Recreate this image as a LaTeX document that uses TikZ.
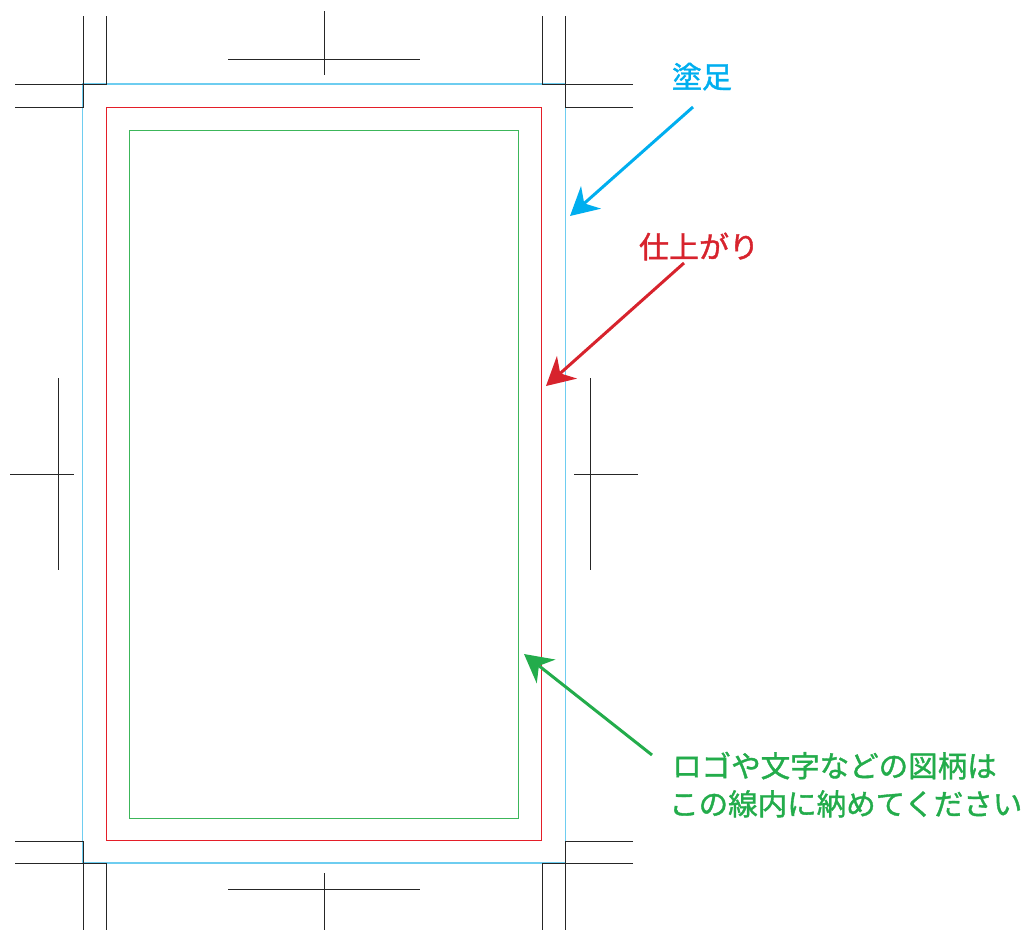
\documentclass[tikz,border=0pt]{standalone}
\usepackage{fontspec}
\newfontfamily\jpfont[FakeBold=1.3]{Noto Sans CJK JP}
\usetikzlibrary{arrows.meta}
\definecolor{bleedcol}{RGB}{0,174,239}
\definecolor{bleedline}{RGB}{110,205,240}
\definecolor{trimcol}{RGB}{215,35,45}
\definecolor{trimline}{RGB}{228,30,40}
\definecolor{safecol}{RGB}{35,172,75}
\definecolor{safeline}{RGB}{60,182,90}
\tikzset{
  crop/.style={line width=0.8pt,black!85},
  label/.style={inner sep=0pt,font=\jpfont\fontsize{30pt}{36pt}\selectfont},
  pointer/.style={line width=3pt,-{Stealth[length=28pt,width=30pt,inset=9pt]}}
}
\begin{document}
\begin{tikzpicture}[x=1pt,y=-1pt]
\useasboundingbox (0,0) rectangle (1028,930);
% frames
\draw [bleedline,line width=1.6pt] (82.5,84) rectangle (565.5,863);
\draw [trimline,line width=1pt] (106,107) rectangle (541.5,840.5);
\draw [safeline,line width=1pt] (129.5,130) rectangle (518.5,818);
% corner marks
\draw [crop] (15,84) -- (106,84) -- (106,16);
\draw [crop] (15,107) -- (83,107) -- (83,16);
\draw [crop] (633,84) -- (542,84) -- (542,16);
\draw [crop] (633,107) -- (565,107) -- (565,16);
\draw [crop] (15,841) -- (83,841) -- (83,930);
\draw [crop] (15,863) -- (106,863) -- (106,930);
\draw [crop] (633,841) -- (565,841) -- (565,930);
\draw [crop] (633,863) -- (542,863) -- (542,930);
% centre marks
\draw [crop] (228,59) -- (420,59);
\draw [crop] (324,11) -- (324,75);
\draw [crop] (228,889) -- (420,889);
\draw [crop] (324,873) -- (324,930);
\draw [crop] (58,378) -- (58,570);
\draw [crop] (10,474) -- (74,474);
\draw [crop] (590,378) -- (590,570);
\draw [crop] (574,474) -- (638,474);
% labels
\node (bleedlbl) [label,bleedcol,anchor=base] at (702,88) {塗足};
\node (trimlbl) [label,trimcol,anchor=base] at (699,258) {仕上がり};
\node (safelblA) [label,safecol,anchor=base west,font=\jpfont\fontsize{29.5pt}{36pt}\selectfont] at (672,777) {ロゴや文字などの図柄は};
\node (safelblB) [label,safecol,anchor=base west,font=\jpfont\fontsize{29.5pt}{36pt}\selectfont] at (669,815) {この線内に納めてください};
\coordinate (bleedtip) at (570,216);
\coordinate (trimtip) at (546,386);
\coordinate (safetip) at (524,654);
% arrows
\draw [pointer,bleedcol] (bleedlbl.base) ++(-9,19) -- (bleedtip);
\draw [pointer,trimcol] (trimlbl.base) ++(-15,5) -- (trimtip);
\draw [pointer,safecol] (safelblA.base west) ++(-20,-22) -- (safetip);
\end{tikzpicture}
\end{document}
